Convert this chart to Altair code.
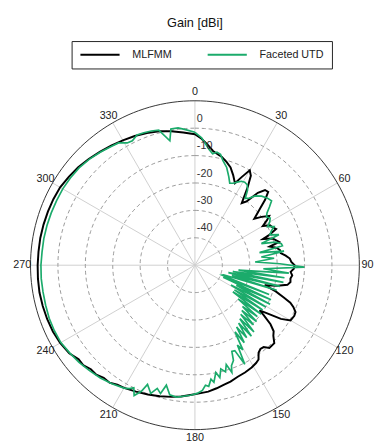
import altair as alt
import pandas as pd

# ---- data (angle in degrees clockwise from top, gain in dBi)
MLFMM_ANGLE = [0, 3, 6, 9, 12, 14, 17, 20, 23, 26, 28, 30, 32, 34, 37, 39, 41, 43, 45, 47,
               49, 52, 54, 56.5, 58, 60, 62, 64, 66, 68, 69, 71, 73, 74.6, 76, 78, 80, 82, 84, 86,
               88, 90, 92, 94, 96, 98, 100, 102, 104, 106, 108, 110, 111.5, 113, 115, 117, 120, 122, 124, 125,
               126, 128, 130, 132, 134.5, 138, 140, 142, 144, 146, 148, 151, 155, 159, 163, 166, 170, 174, 178, 182,
               186, 190, 195, 200, 205, 210, 213, 216, 219, 222, 225, 228, 231, 235, 240, 245, 250, 255, 260, 265,
               270, 275, 280, 285, 290, 295, 300, 305, 310, 315, 320, 325, 330, 335, 340, 345, 350, 355, 360]
MLFMM_GAIN = [-2.2, -3.8, -5.8, -7.8, -8.8, -9.3, -10.6, -12.0, -14.3, -16.7, -13.5, -10.0, -11.5, -15.5, -21.6, -20.0, -15.0, -12.5, -12.2, -15.0,
              -18.5, -22.5, -20.0, -17.5, -19.0, -21.4, -19.0, -18.5, -17.6, -21.0, -23.4, -20.0, -19.0, -18.1, -21.9, -19.5, -18.5, -18.4, -16.7, -15.3,
              -14.8, -13.6, -13.9, -15.0, -14.3, -14.8, -14.6, -15.5, -19.0, -23.5, -19.0, -15.5, -12.6, -11.0, -9.5, -9.3, -9.7, -13.0, -19.0, -21.2,
              -19.0, -15.0, -12.5, -11.5, -9.4, -9.4, -11.0, -11.2, -10.5, -8.5, -7.9, -7.3, -6.8, -6.4, -5.6, -5.2, -4.4, -3.6, -3.2, -2.6,
              -1.8, -1.2, -0.5, 0.2, 0.9, 1.7, 2.0, 3.0, 2.9, 3.8, 3.7, 4.7, 4.6, 6.0, 6.8, 7.2, 7.4, 7.5, 7.6, 7.5,
              7.4, 7.3, 7.3, 7.2, 7.1, 7.0, 6.8, 6.2, 5.6, 4.8, 4.0, 3.3, 2.6, 2.0, 1.3, 0.6, -0.4, -1.4, -2.2]

UTD_ANGLE = [0, 3, 5, 7, 9, 11, 13, 15, 18, 21, 23, 25, 27, 29, 31, 33, 35, 37, 39, 41,
             44, 47, 50, 52, 54, 56, 58, 60, 62, 64, 66, 68, 70, 72, 74, 76, 77.5, 79, 81, 83,
             85, 87, 89, 91, 93, 94.8, 96.5, 98, 99.5, 101, 102.5, 104, 105.5, 107, 108.5, 110, 111.5, 113, 114.5, 116,
             117.5, 119, 120.5, 122, 123.5, 125, 126.5, 128, 129.5, 131, 132.5, 134, 135.5, 137, 138.5, 140, 141.5, 143, 144.5, 146,
             147.5, 149, 150.5, 152, 153.3, 155, 156.8, 158, 160, 161, 162.5, 164, 166, 167.5, 169, 170.8, 172, 173.5, 175, 176.6,
             179, 182, 185, 188, 191, 193.4, 195, 197, 199, 201.7, 203, 205, 206.5, 208, 210, 215, 220, 225, 230, 235,
             240, 245, 250, 255, 260, 265, 270, 275, 280, 285, 290, 295, 300, 305, 310, 315, 320, 325, 328, 331,
             333.3, 336, 338.9, 342, 345, 348.6, 350, 353, 356, 360]
UTD_GAIN = [-1.5, -3.5, -5.5, -7.5, -8.8, -8.0, -8.5, -10.5, -12.5, -15.5, -17.5, -17.0, -16.0, -15.0, -14.7, -15.0, -16.5, -19.5, -18.5, -16.5,
            -15.0, -14.0, -13.5, -15.5, -17.5, -18.5, -17.6, -18.5, -20.0, -17.9, -19.5, -20.5, -17.4, -24.5, -19.5, -17.5, -17.3, -26.0, -17.1, -25.6,
            -21.0, -28.0, -19.0, -10.1, -25.0, -15.6, -34.0, -17.0, -36.0, -17.1, -37.5, -18.0, -36.0, -18.8, -39.0, -39.5, -20.9, -38.8, -19.5, -33.2,
            -19.1, -35.0, -20.0, -33.0, -20.4, -33.1, -20.0, -30.0, -20.5, -27.0, -19.5, -26.2, -19.5, -25.5, -17.5, -24.5, -16.9, -23.5, -17.5, -22.8,
            -16.5, -21.6, -14.5, -17.0, -9.5, -15.6, -15.8, -12.5, -11.0, -8.6, -12.0, -9.5, -11.0, -8.0, -10.1, -6.7, -8.0, -5.5, -6.0, -4.2,
            -3.2, -2.5, -2.0, -1.4, -1.8, -5.0, -1.5, -3.0, -0.5, -3.2, 0.0, 2.5, 0.0, 1.0, 1.8, 2.8, 3.7, 4.4, 5.2, 5.8,
            6.5, 6.6, 6.6, 6.4, 6.3, 6.3, 6.2, 6.0, 6.0, 5.9, 5.8, 5.7, 5.7, 5.5, 5.2, 4.6, 3.8, 3.0, 2.6, 1.0,
            0.8, 2.0, 1.8, 1.5, 1.0, -3.7, 0.5, 0.5, -0.4, -1.5]

SERIES = ["MLFMM", "Faceted UTD"]
COLORS = ["#000000", "#1bab6b"]
RING_LEVELS = [0, -10, -20, -30, -40]
RING_LABELS = ["0", "-10", "-20", "-30", "-40"]
OUTER_LEVEL = 10
FLOOR = -50
SPOKE_ANGLES = list(range(0, 360, 30))
ANGLE_LABELS = [str(a) for a in SPOKE_ANGLES]
SWEEP = list(range(0, 361, 2))

FONT = "Liberation Sans"
RMAX = OUTER_LEVEL - FLOOR

mlfmm = pd.DataFrame({"angle": MLFMM_ANGLE, "gain": MLFMM_GAIN, "series": SERIES[0]})
mlfmm["idx"] = range(len(mlfmm))
utd = pd.DataFrame({"angle": UTD_ANGLE, "gain": UTD_GAIN, "series": SERIES[1]})
utd["idx"] = range(len(utd))

rings = pd.DataFrame([{"level": lv, "angle": a} for lv in RING_LEVELS for a in SWEEP])
outer = pd.DataFrame({"level": OUTER_LEVEL, "angle": SWEEP})
spokes = pd.DataFrame({"angle": SPOKE_ANGLES, "label": ANGLE_LABELS})
ring_lab = pd.DataFrame({"level": RING_LEVELS, "label": RING_LABELS})

XS = alt.Scale(domain=[-RMAX, RMAX], nice=False, zero=False)
YS = alt.Scale(domain=[-RMAX, RMAX], nice=False, zero=False)

PX = "datum.r * sin(datum.angle * PI / 180)"
PY = "datum.r * cos(datum.angle * PI / 180)"

def X(f="px"):
    return alt.X(f + ":Q", scale=XS, axis=None)

def Y(f="py"):
    return alt.Y(f + ":Q", scale=YS, axis=None)

color = alt.Color(
    "series:N",
    scale=alt.Scale(domain=SERIES, range=COLORS),
    legend=alt.Legend(
        orient="none", legendX=42, legendY=-61, direction="horizontal", title=None,
        symbolType="stroke", symbolSize=1600, symbolStrokeWidth=2, clipHeight=12,
        labelFont=FONT, labelFontSize=11, labelColor="#222", labelOffset=12,
        strokeColor="#222", padding=8, columnPadding=35,
    ),
)

spoke_layer = alt.Chart(spokes).transform_calculate(
    x0="0", y0="0",
    x1=f"{RMAX} * sin(datum.angle * PI / 180)",
    y1=f"{RMAX} * cos(datum.angle * PI / 180)",
).mark_rule(color="#cfcfcf", strokeWidth=1).encode(
    x=X("x0"), y=Y("y0"), x2="x1:Q", y2="y1:Q"
)

ring_layer = alt.Chart(rings).transform_calculate(
    r=f"datum.level - ({FLOOR})"
).transform_calculate(px=PX, py=PY).mark_line(
    color="#9a9a9a", strokeWidth=1, strokeDash=[4, 3]
).encode(x=X(), y=Y(), detail="level:N", order="angle:Q")

outer_layer = alt.Chart(outer).transform_calculate(
    r=f"datum.level - ({FLOOR})"
).transform_calculate(px=PX, py=PY).mark_line(
    color="#333333", strokeWidth=1
).encode(x=X(), y=Y(), order="angle:Q")

def curve(df, width):
    return alt.Chart(df).transform_calculate(
        r=f"max(0, datum.gain - ({FLOOR}))"
    ).transform_calculate(px=PX, py=PY).mark_line(strokeWidth=width).encode(
        x=X(), y=Y(), color=color, order="idx:Q"
    )

angle_text = alt.Chart(spokes).transform_calculate(
    r=f"{RMAX} + 3.0"
).transform_calculate(px=PX, py=PY).mark_text(
    font=FONT, fontSize=11, color="#222", align="center", baseline="middle"
).encode(x=X(), y=Y(), text="label:N")

ring_text = alt.Chart(ring_lab).transform_calculate(
    px="0.7", py=f"datum.level - ({FLOOR}) + 1.6"
).mark_text(
    font=FONT, fontSize=11, color="#333", align="left", baseline="bottom"
).encode(x=X(), y=Y(), text="label:N")

chart = alt.layer(
    spoke_layer, ring_layer, outer_layer,
    curve(mlfmm, 2.0), curve(utd, 1.7),
    ring_text, angle_text,
).properties(
    width=336, height=336,
    title=alt.Title("Gain [dBi]", font=FONT, fontSize=13, fontWeight="normal",
                    color="#111", anchor="middle", frame="group", offset=11),
    padding={"left": 23, "top": 90, "right": 17, "bottom": 14},
    autosize=alt.AutoSizeParams(type="none"),
).configure_view(stroke=None)

chart.save("out.html", embed_options={"renderer": "svg", "actions": False})
